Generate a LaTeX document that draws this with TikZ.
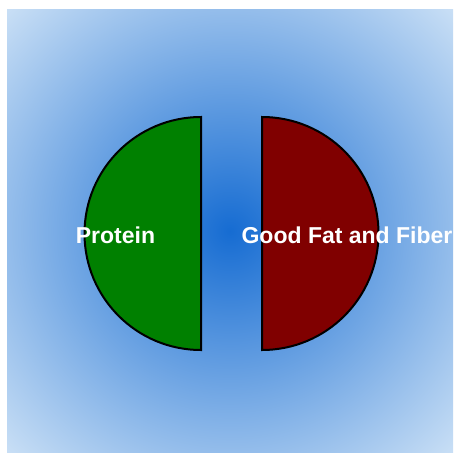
\documentclass[tikz,border=0pt]{standalone}
\usepackage{fontspec}
\setmainfont{Liberation Sans}
\definecolor{glowin}{RGB}{22,108,210}
\definecolor{glowout}{RGB}{204,225,246}
\definecolor{protgreen}{RGB}{0,128,0}
\definecolor{fatred}{RGB}{128,0,0}
\pgfdeclareradialshading{bgglow}{\pgfpoint{0bp}{0bp}}{color(0bp)=(glowin); color(36bp)=(glowout); color(50bp)=(glowout)}

\begin{document}
\begin{tikzpicture}[x=1pt,y=-1pt,font=\fontsize{23}{27}\selectfont\bfseries,
  half/.style={draw=black,line width=2pt,line join=miter},
  tag/.style={text=white,inner sep=0pt}]
\useasboundingbox (0,0) rectangle (453,453);
\path[shading=bgglow] (7,9) rectangle (453,453);
\path[half,fill=protgreen] (201,117) arc[start angle=90,end angle=270,radius=116.5pt] -- cycle;
\path[half,fill=fatred] (262,117) arc[start angle=90,end angle=-90,radius=116.5pt] -- cycle;
\node[tag] (protein) at (115.5,235) {Protein};
\node[tag] (fatfiber) at (347,235) {Good Fat and Fiber};
\end{tikzpicture}
\end{document}
